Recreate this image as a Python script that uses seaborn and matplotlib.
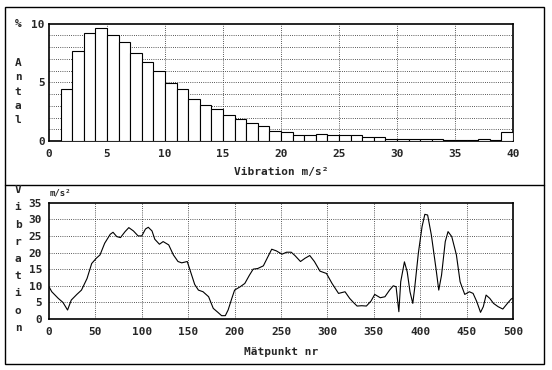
import numpy as np
import pandas as pd
import seaborn as sns
import matplotlib
matplotlib.use("Agg")
import matplotlib.pyplot as plt
from matplotlib.patches import Rectangle
from matplotlib.lines import Line2D

# ---- data ----
bin_left = list(range(0, 40))
pct = [0, 4.45, 7.7, 9.2, 9.6, 9.0, 8.45, 7.45, 6.75, 5.95,
       4.9, 4.4, 3.55, 3.1, 2.7, 2.2, 1.85, 1.5, 1.3, 0.85,
       0.74, 0.5, 0.5, 0.6, 0.48, 0.48, 0.48, 0.37, 0.37, 0.17,
       0.15, 0.15, 0.14, 0.13, 0.12, 0.08, 0.1, 0.18, 0.12, 0.8]
top_xticks = [0, 5, 10, 15, 20, 25, 30, 35, 40]
top_yticks = [0, 5, 10]

pos = [0, 3, 10, 15, 20, 24, 30, 35, 41, 46, 51, 55, 60, 66, 69, 73, 77, 82, 86, 91,
       96, 100, 104, 107, 111, 114, 119, 123, 129, 134, 139, 143, 149, 152, 157, 161,
       166, 172, 177, 182, 186, 190, 193, 197, 200, 206, 211, 216, 220, 225, 231, 236,
       240, 245, 251, 256, 261, 265, 271, 276, 281, 286, 292, 299, 305, 312, 319, 324,
       328, 332, 337, 342, 347, 351, 357, 362, 367, 371, 374, 377, 379, 383, 386, 389,
       392, 394, 398, 402, 405, 408, 412, 417, 420, 423, 427, 430, 434, 439, 443, 448,
       453, 457, 461, 465, 468, 471, 475, 479, 484, 489, 494, 498, 500]
vib = [9.7, 8.2, 6.2, 5, 2.7, 5.7, 7.4, 8.7, 12.2, 16.7, 18.3, 19.3, 22.8, 25.5, 26.1,
       24.8, 24.5, 26.3, 27.5, 26.5, 25, 25, 27.1, 27.6, 26.5, 24, 22.5, 23.3, 22.3, 19.3,
       17.3, 16.9, 17.3, 14.7, 10.4, 8.7, 8.2, 6.7, 3.2, 2, 1, 1, 2.7, 6.2, 8.7, 9.7, 10.7,
       13.2, 15, 15.2, 16, 18.8, 21, 20.5, 19.5, 20.1, 20.1, 19.1, 17.3, 18.3, 19.1, 17.3,
       14.4, 13.7, 10.7, 7.7, 8.2, 6.2, 5, 3.9, 4, 3.9, 5.4, 7.4, 6.4, 6.7, 8.7, 10, 9.7,
       2.2, 11.2, 17.2, 14.2, 8.2, 4.7, 9.2, 19.8, 27.8, 31.5, 31.3, 25.3, 15.2, 8.7, 13.2,
       23.3, 26.3, 24.8, 19.3, 11.2, 7.4, 8.2, 7.7, 5.2, 2, 3.7, 7.2, 6.2, 4.7, 3.7, 3,
       4.7, 6, 6.3]
bot_xticks = [0, 50, 100, 150, 200, 250, 300, 350, 400, 450, 500]
bot_yticks = [0, 5, 10, 15, 20, 25, 30, 35]

sns.set_style("white")
plt.rcParams['font.family'] = ['DejaVu Sans Mono', 'DejaVu Sans']
plt.rcParams['font.weight'] = 'bold'
FS = 8

W, H = 552, 370
fig = plt.figure(figsize=(W / 100, H / 100), dpi=100)

def fx(px):
    return px / W

def fy(py):
    return 1 - py / H

ax1 = fig.add_axes([fx(49), fy(141), fx(513) - fx(49), fy(23.5) - fy(141)])
ax2 = fig.add_axes([fx(49), fy(319), fx(513) - fx(49), fy(202.7) - fy(319)])

grid_kw = dict(color='#222222', linestyle=(0, (1, 1.6)), linewidth=0.6)

# ---- top histogram ----
dfh = pd.DataFrame({'x': np.array(bin_left, dtype=float) + 0.5, 'w': np.array(pct, dtype=float)})
sns.histplot(data=dfh, x='x', weights='w', bins=40, binrange=(0, 40), ax=ax1,
             color='white', edgecolor='black', linewidth=0.8, alpha=1, zorder=3)
ax1.set_xlim(0, 40)
ax1.set_ylim(0, 10)
ax1.set_xticks(top_xticks)
ax1.set_yticks(top_yticks)
ax1.set_xticklabels([str(t) for t in top_xticks], fontsize=FS, fontweight='bold')
ax1.set_yticklabels([str(t) for t in top_yticks], fontsize=FS, fontweight='bold')
for v in range(1, 10):
    ax1.axhline(v, **grid_kw, zorder=1)
for v in range(5, 40, 5):
    ax1.axvline(v, **grid_kw, zorder=1)
ax1.tick_params(axis='both', which='both', length=0)
ax1.tick_params(axis='x', pad=6)
ax1.tick_params(axis='y', pad=3)
ax1.set_xlabel('')
ax1.set_ylabel('')

# ---- bottom line ----
dfl = pd.DataFrame({'n': pos, 'v': vib})
sns.lineplot(data=dfl, x='n', y='v', ax=ax2, color='black', linewidth=0.8, zorder=3)
ax2.set_xlim(0, 500)
ax2.set_ylim(0, 35)
ax2.set_xticks(bot_xticks)
ax2.set_yticks(bot_yticks)
ax2.set_xticklabels([str(t) for t in bot_xticks], fontsize=FS, fontweight='bold')
ax2.set_yticklabels([str(t) for t in bot_yticks], fontsize=FS, fontweight='bold')
for v in range(5, 35, 5):
    ax2.axhline(v, **grid_kw, zorder=1)
for v in range(50, 500, 50):
    ax2.axvline(v, **grid_kw, zorder=1)
ax2.tick_params(axis='both', which='both', length=0)
ax2.tick_params(axis='x', pad=6)
ax2.tick_params(axis='y', pad=5)
ax2.set_xlabel('')
ax2.set_ylabel('')

for ax in (ax1, ax2):
    for s in ax.spines.values():
        s.set_visible(True)
        s.set_color('black')
        s.set_linewidth(1.2)

# ---- labels ----
fig.text(fx(281), fy(172), 'Vibration m/s²', ha='center', va='center', fontsize=FS, fontweight='bold')
fig.text(fx(281), fy(352), 'Mätpunkt nr', ha='center', va='center', fontsize=FS, fontweight='bold')
fig.text(fx(50), fy(193), 'm/s²', ha='left', va='center', fontsize=6.5, fontweight='bold')
fig.text(fx(18), fy(24), '%', ha='center', va='center', fontsize=FS, fontweight='bold')
for i, ch in enumerate('Antal'):
    fig.text(fx(18), fy(63 + 14.3 * i), ch, ha='center', va='center', fontsize=FS, fontweight='bold')
for i, ch in enumerate('Vibration'):
    fig.text(fx(18), fy(190 + 17.25 * i), ch, ha='center', va='center', fontsize=FS, fontweight='bold')

# ---- outer frame & divider ----
fig.patches.append(Rectangle((fx(5), fy(364)), fx(544) - fx(5), fy(7) - fy(364),
                             transform=fig.transFigure, fill=False, edgecolor='black', linewidth=1.0))
fig.lines.append(Line2D([fx(5), fx(544)], [fy(185), fy(185)], transform=fig.transFigure,
                        color='black', linewidth=1.0))

fig.savefig('out.png', dpi=100, facecolor='white')
